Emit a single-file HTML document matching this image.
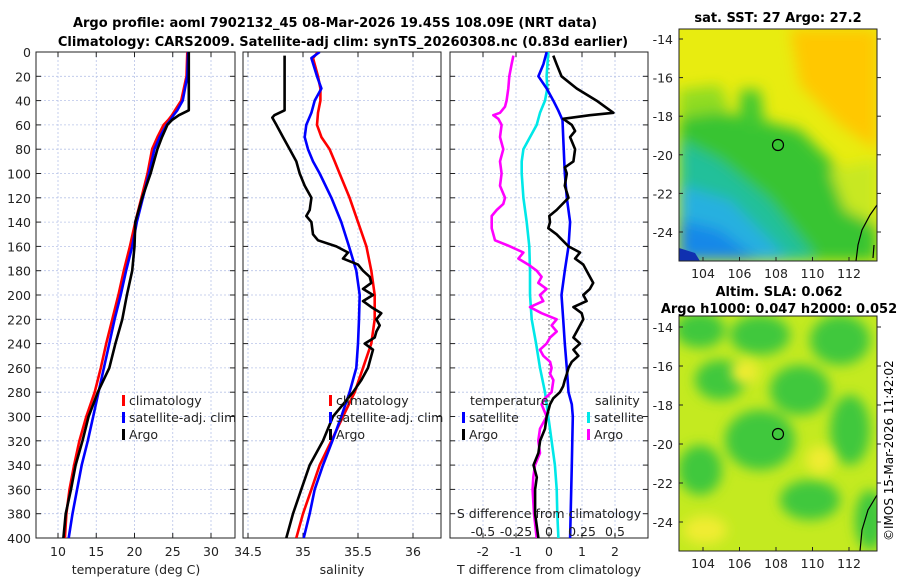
<!DOCTYPE html>
<html><head><meta charset="utf-8"><style>
body{margin:0;background:#fff;}
svg{font-family:"DejaVu Sans","Liberation Sans",sans-serif;}
</style></head><body>
<svg id="s" width="900" height="580" viewBox="0 0 900 580" xmlns="http://www.w3.org/2000/svg">
<defs>
<filter id="bl" x="-20%" y="-20%" width="140%" height="140%"><feGaussianBlur stdDeviation="7"/></filter>
<filter id="bl2" x="-20%" y="-20%" width="140%" height="140%"><feGaussianBlur stdDeviation="6"/></filter>
<clipPath id="c1"><rect x="679" y="29" width="198" height="232"/></clipPath>
<clipPath id="c2"><rect x="679" y="316" width="198" height="235"/></clipPath>
<clipPath id="cp1"><rect x="36" y="52" width="199" height="486"/></clipPath>
<clipPath id="cp2"><rect x="243" y="52" width="198" height="486"/></clipPath>
<clipPath id="cp3"><rect x="450" y="52" width="198" height="486"/></clipPath>
</defs>
<text x="335" y="27" font-size="13" font-weight="bold" text-anchor="middle">Argo profile: aoml 7902132_45 08-Mar-2026 19.45S 108.09E (NRT data)</text>
<text x="343" y="46" font-size="13" font-weight="bold" text-anchor="middle">Climatology: CARS2009. Satellite-adj clim: synTS_20260308.nc (0.83d earlier)</text>

<g clip-path="url(#c1)">
<rect x="679" y="29" width="198" height="232" fill="#e8ec10"/>
<g filter="url(#bl)">
<polygon points="790,29 877,29 877,150 840,125 800,85" fill="#ffc800"/>
<polygon points="679,115 720,112 760,120 800,130 840,170 870,200 877,230 877,261 679,261" fill="#38c432"/>
<polygon points="740,90 760,90 765,130 740,125" fill="#40c830"/>
<polygon points="679,90 720,85 730,110 679,118" fill="#90dc20"/>
<polygon points="679,140 720,160 770,200 810,250 815,261 679,261" fill="#22c09a"/>
<polygon points="679,185 730,200 770,240 790,261 679,261" fill="#28b0e0"/>
<polygon points="679,220 720,230 760,261 679,261" fill="#1888e8"/>
<polygon points="830,170 877,160 877,225 845,210" fill="#c8e820"/>
</g>
<polygon points="679,248 695,253 700,261 679,261" fill="#1030b0"/>
<path d="M877,205 L870,215 L862,230 L858,245 L856,261" stroke="#000" stroke-width="1.2" fill="none"/>
<path d="M874,245 L873,258" stroke="#000" stroke-width="1.2"/>
<circle cx="778" cy="145" r="5.5" fill="none" stroke="#000" stroke-width="1.2"/>
</g>
<rect x="679" y="29" width="198" height="232" fill="none" stroke="#222"/>
<text x="778" y="22" font-size="13" font-weight="bold" text-anchor="middle">sat. SST: 27 Argo: 27.2</text>

<g clip-path="url(#c2)">
<rect x="679" y="316" width="198" height="235" fill="#c4ea20"/>
<g filter="url(#bl2)" fill="#40c83c">
<ellipse cx="700" cy="330" rx="25" ry="18"/><ellipse cx="760" cy="335" rx="30" ry="20"/>
<ellipse cx="840" cy="340" rx="30" ry="25"/><ellipse cx="720" cy="380" rx="25" ry="20"/>
<ellipse cx="800" cy="390" rx="30" ry="25"/><ellipse cx="760" cy="440" rx="35" ry="30"/>
<ellipse cx="850" cy="430" rx="20" ry="35"/><ellipse cx="700" cy="470" rx="22" ry="25"/>
<ellipse cx="810" cy="500" rx="30" ry="20"/><ellipse cx="870" cy="520" rx="15" ry="30"/>
</g>
<g filter="url(#bl2)" fill="#f0ec30"><ellipse cx="705" cy="530" rx="22" ry="14"/><ellipse cx="745" cy="372" rx="14" ry="12"/><ellipse cx="820" cy="460" rx="14" ry="14"/></g>
<path d="M877,495 L868,510 L862,530 L860,551" stroke="#000" stroke-width="1.2" fill="none"/>
<circle cx="778" cy="434" r="5.5" fill="none" stroke="#000" stroke-width="1.2"/>
</g>
<rect x="679" y="316" width="198" height="235" fill="none" stroke="#222"/>
<text x="779" y="296" font-size="13" font-weight="bold" text-anchor="middle">Altim. SLA: 0.062</text>
<text x="779" y="313" font-size="13" font-weight="bold" text-anchor="middle">Argo h1000: 0.047 h2000: 0.052</text>
<text transform="translate(893,541) rotate(-90)" font-size="12">©IMOS 15-Mar-2026 11:42:02</text>
<g id="dyn"></g>
</svg>
<script>
// ---- data ----
const tDepth=[0,20,40,48,52,56,60,70,80,100,120,140,160,180,200,220,240,260,280,300,320,340,360,380,400];
const tArgo=[27.1,27.1,27.1,27.1,25.8,24.9,24.3,23.6,23.0,22.1,21.0,20.1,20.0,19.7,19.0,18.4,17.5,16.7,15.2,14.0,13.2,12.3,11.7,11.0,10.7];
const tClim=[26.9,26.8,26.1,25.3,24.9,24.4,23.8,23.0,22.3,21.7,20.9,20.1,19.4,18.6,17.9,17.1,16.3,15.6,14.8,13.7,12.8,12.1,11.5,11.1,10.9];
const tSat=[27.0,26.9,26.3,25.6,25.1,24.7,24.2,23.3,22.6,21.9,21.1,20.3,19.7,18.9,18.2,17.4,16.7,16.0,15.3,14.6,13.9,13.1,12.5,11.9,11.4];
const sDepth=[0,5,20,30,40,50,60,70,80,90,100,120,140,160,180,200,220,240,260,280,300,320,340,360,380,400];
const sClim=[35.136,35.091,35.136,35.158,35.158,35.136,35.127,35.167,35.242,35.288,35.333,35.424,35.5,35.576,35.621,35.652,35.652,35.621,35.545,35.470,35.364,35.258,35.152,35.076,35.0,34.939];
const sSat=[35.152,35.076,35.127,35.167,35.106,35.076,35.030,35.015,35.045,35.091,35.152,35.258,35.348,35.418,35.485,35.515,35.509,35.5,35.485,35.424,35.348,35.267,35.182,35.106,35.061,35.006];
const sArgoDepth=[3,48,52,54,60,70,80,90,100,110,120,130,135,140,150,155,160,165,170,175,180,185,190,195,200,205,210,215,220,225,230,235,240,245,250,260,270,280,290,300,320,340,360,380,400];
const sArgo=[34.833,34.833,34.740,34.721,34.758,34.818,34.879,34.939,34.970,35.015,35.076,35.061,35.030,35.076,35.091,35.136,35.303,35.409,35.364,35.5,35.545,35.606,35.621,35.545,35.636,35.545,35.621,35.712,35.667,35.697,35.667,35.652,35.561,35.636,35.621,35.591,35.530,35.455,35.364,35.273,35.182,35.061,34.985,34.909,34.848];
const dtSatDepth=[0,10,20,30,40,48,56,70,100,120,140,160,180,200,220,240,260,280,290,300,340,400];
const dtSat=[-0.07,-0.17,-0.32,-0.07,0.13,0.28,0.41,0.43,0.48,0.54,0.64,0.59,0.48,0.38,0.43,0.48,0.54,0.59,0.69,0.72,0.69,0.64];
const dtArgoDepth=[3,10,20,30,40,50,52,55,60,65,70,80,90,95,100,110,120,130,135,140,145,150,160,165,170,175,180,190,195,200,205,210,215,220,230,235,240,245,250,255,260,265,270,275,280,285,290,300,310,320,330,340,350,360,380,400];
const dtArgo=[0.13,0.23,0.38,0.84,1.44,1.95,1.24,0.43,0.69,0.79,0.64,0.79,0.74,0.48,0.54,0.48,0.59,0.23,0.01,0.03,-0.02,0.23,0.59,0.94,0.79,1.04,1.14,1.34,1.24,1.04,1.14,0.74,0.99,1.04,0.84,0.74,0.94,0.74,0.89,0.69,0.59,0.54,0.48,0.43,0.33,0.13,0.03,-0.07,-0.12,-0.27,-0.32,-0.47,-0.37,-0.42,-0.42,-0.32];
const dsSatDepth=[0,20,30,40,50,60,70,80,90,100,120,140,160,180,200,220,240,260,280,300,320,340,360,380,400];
const dsSat=[-0.005,-0.018,-0.013,-0.030,-0.068,-0.093,-0.144,-0.194,-0.207,-0.207,-0.194,-0.169,-0.149,-0.144,-0.144,-0.131,-0.098,-0.068,-0.030,-0.005,0.020,0.045,0.058,0.063,0.071];
const dsArgoDepth=[3,10,20,30,40,45,50,52,55,60,70,80,90,100,110,120,125,130,135,145,155,160,165,170,175,180,185,190,195,200,205,210,215,220,225,230,235,240,245,250,255,260,265,270,280,285,290,300,310,320,330,340,350,360,380,400];
const dsArgo=[-0.270,-0.283,-0.301,-0.308,-0.321,-0.333,-0.371,-0.422,-0.384,-0.359,-0.371,-0.346,-0.371,-0.359,-0.371,-0.333,-0.346,-0.396,-0.434,-0.434,-0.409,-0.295,-0.194,-0.232,-0.157,-0.093,-0.056,-0.081,-0.018,-0.068,-0.043,-0.144,-0.056,0.058,0.020,0.058,0.008,-0.018,-0.068,-0.043,0.008,0.020,0.008,0.033,0.020,-0.030,-0.056,-0.018,-0.068,-0.081,-0.068,-0.106,-0.119,-0.124,-0.114,-0.093];
const depthTicks=[0,20,40,60,80,100,120,140,160,180,200,220,240,260,280,300,320,340,360,380,400];
const tTicks=[10,15,20,25,30];
const sTicks=[34.5,35,35.5,36];
const sTickLabels=["34.5","35","35.5","36"];
const dTTicks=[-2,-1,0,1,2];
const dSTicks=[-0.5,-0.25,0,0.25,0.5];
const dSTickLabels=["-0.5","-0.25","0","0.25","0.5"];
const lonTicks=[104,106,108,110,112];
const latTicks=[-14,-16,-18,-20,-22,-24];
// ---- scales ----
const Y=d=>52+d*1.215;
const XT=t=>58+(t-10)*7.65;
const XS=s=>248+(s-34.5)*110;
const XDT=t=>549+t*33;
const XDS=s=>549+s*132;
const NS="http://www.w3.org/2000/svg";
const g=document.getElementById('dyn');
function mk(tag,at,parent){const e=document.createElementNS(NS,tag);for(const k in at)e.setAttribute(k,at[k]);(parent||g).appendChild(e);return e;}
function txt(x,y,s,anchor,size){const e=mk('text',{x:x,y:y,'font-size':size||12.5,'text-anchor':anchor||'middle',fill:'#222'});e.textContent=s;return e;}
function panel(x0,x1,xs,ticks,labels,clip,name){
  const pg=mk('g',{});
  
  
  depthTicks.forEach(d=>{mk('line',{x1:x0,x2:x1,y1:Y(d),y2:Y(d),stroke:'#b8c4e8','stroke-width':0.8,'stroke-dasharray':'2,2'},pg);
    mk('line',{x1:x0,x2:x0+5,y1:Y(d),y2:Y(d),stroke:'#222'},pg);mk('line',{x1:x1-5,x2:x1,y1:Y(d),y2:Y(d),stroke:'#222'},pg);});
  ticks.forEach((t,i)=>{const x=xs(t);mk('line',{x1:x,x2:x,y1:52,y2:538,stroke:'#b8c4e8','stroke-width':0.8,'stroke-dasharray':'2,2'},pg);
    mk('line',{x1:x,x2:x,y1:538,y2:533,stroke:'#222'},pg);mk('line',{x1:x,x2:x,y1:52,y2:57,stroke:'#222'},pg);
    const tl=txt(x,556,labels[i]);});
  mk('rect',{x:x0,y:52,width:x1-x0,height:486,fill:'none',stroke:'#222'},pg);
}
function line(ds,vs,xs,color,clip,name){
  const p=ds.map((d,i)=>xs(vs[i]).toFixed(1)+','+Y(d).toFixed(1)).join(' ');
  const e=mk('polyline',{points:p,fill:'none',stroke:color,'stroke-width':2.6,'stroke-linejoin':'round','clip-path':'url(#'+clip+')'});
  
  
}
panel(36,235,XT,tTicks,tTicks.map(String),'cp1','temperature-panel');
panel(243,441,XS,sTicks,sTickLabels,'cp2','salinity-panel');
panel(450,648,XDT,dTTicks,dTTicks.map(String),'cp3','difference-panel');
mk('line',{x1:XDT(0),x2:XDT(0),y1:52,y2:538,stroke:'#555','stroke-dasharray':'1.5,2.5'});
depthTicks.forEach(d=>{const e=txt(31,Y(d)+5,String(d),'end');});
line(tDepth,tClim,XT,'#ff0000','cp1','temp-climatology-line');
line(tDepth,tSat,XT,'#0000ff','cp1','temp-satellite-line');
line(tDepth,tArgo,XT,'#000000','cp1','temp-argo-line');
line(sDepth,sClim,XS,'#ff0000','cp2','sal-climatology-line');
line(sDepth,sSat,XS,'#0000ff','cp2','sal-satellite-line');
line(sArgoDepth,sArgo,XS,'#000000','cp2','sal-argo-line');
line(dsSatDepth,dsSat,XDS,'#00e8e8','cp3','sdiff-satellite-line');
line(dsArgoDepth,dsArgo,XDS,'#ff00ff','cp3','sdiff-argo-line');
line(dtSatDepth,dtSat,XDT,'#0000ff','cp3','tdiff-satellite-line');
line(dtArgoDepth,dtArgo,XDT,'#000000','cp3','tdiff-argo-line');
dSTicks.forEach((s,i)=>{const e=txt(XDS(s),536,dSTickLabels[i]);});
let e;
e=txt(549,518,'S difference from climatology');
e=txt(136,574,'temperature (deg C)');
e=txt(342,574,'salinity');
e=txt(549,574,'T difference from climatology');
function leg(x,y,color,label,name){mk('rect',{x:x,y:y-10,width:3,height:11,fill:color});const t=txt(x+7,y,label,'start');}
leg(122,405,'#ff0000','climatology','legend-climatology');
leg(122,422,'#0000ff','satellite-adj. clim','legend-satellite');
leg(122,439,'#000000','Argo','legend-argo');
leg(329,405,'#ff0000','climatology','legend-climatology-2');
leg(329,422,'#0000ff','satellite-adj. clim','legend-satellite-2');
leg(329,439,'#000000','Argo','legend-argo-2');
e=txt(470,405,'temperature','start');
e=txt(595,405,'salinity','start');
leg(462,422,'#0000ff','satellite','legend-t-satellite');
leg(462,439,'#000000','Argo','legend-t-argo');
leg(587,422,'#00e8e8','satellite','legend-s-satellite');
leg(587,439,'#ff00ff','Argo','legend-s-argo');
// map axes
const LX=l=>703+(l-104)*18.25;
function mapAxes(yLat,ly){
  lonTicks.forEach(l=>{const x=LX(l);mk('line',{x1:x,x2:x,y1:ly,y2:ly-4,stroke:'#222'});const t=txt(x,ly+17,String(l));});
  latTicks.forEach(l=>{const y=yLat(l);mk('line',{x1:679,x2:683,y1:y,y2:y,stroke:'#222'});mk('line',{x1:877,x2:881,y1:y,y2:y,stroke:'#222'});const t=txt(673,y+5,String(l),'end');});
}
mapAxes(l=>39+(-14-l)*19.3,261);
mapAxes(l=>327+(-14-l)*19.5,551);
</script>
</body></html>
